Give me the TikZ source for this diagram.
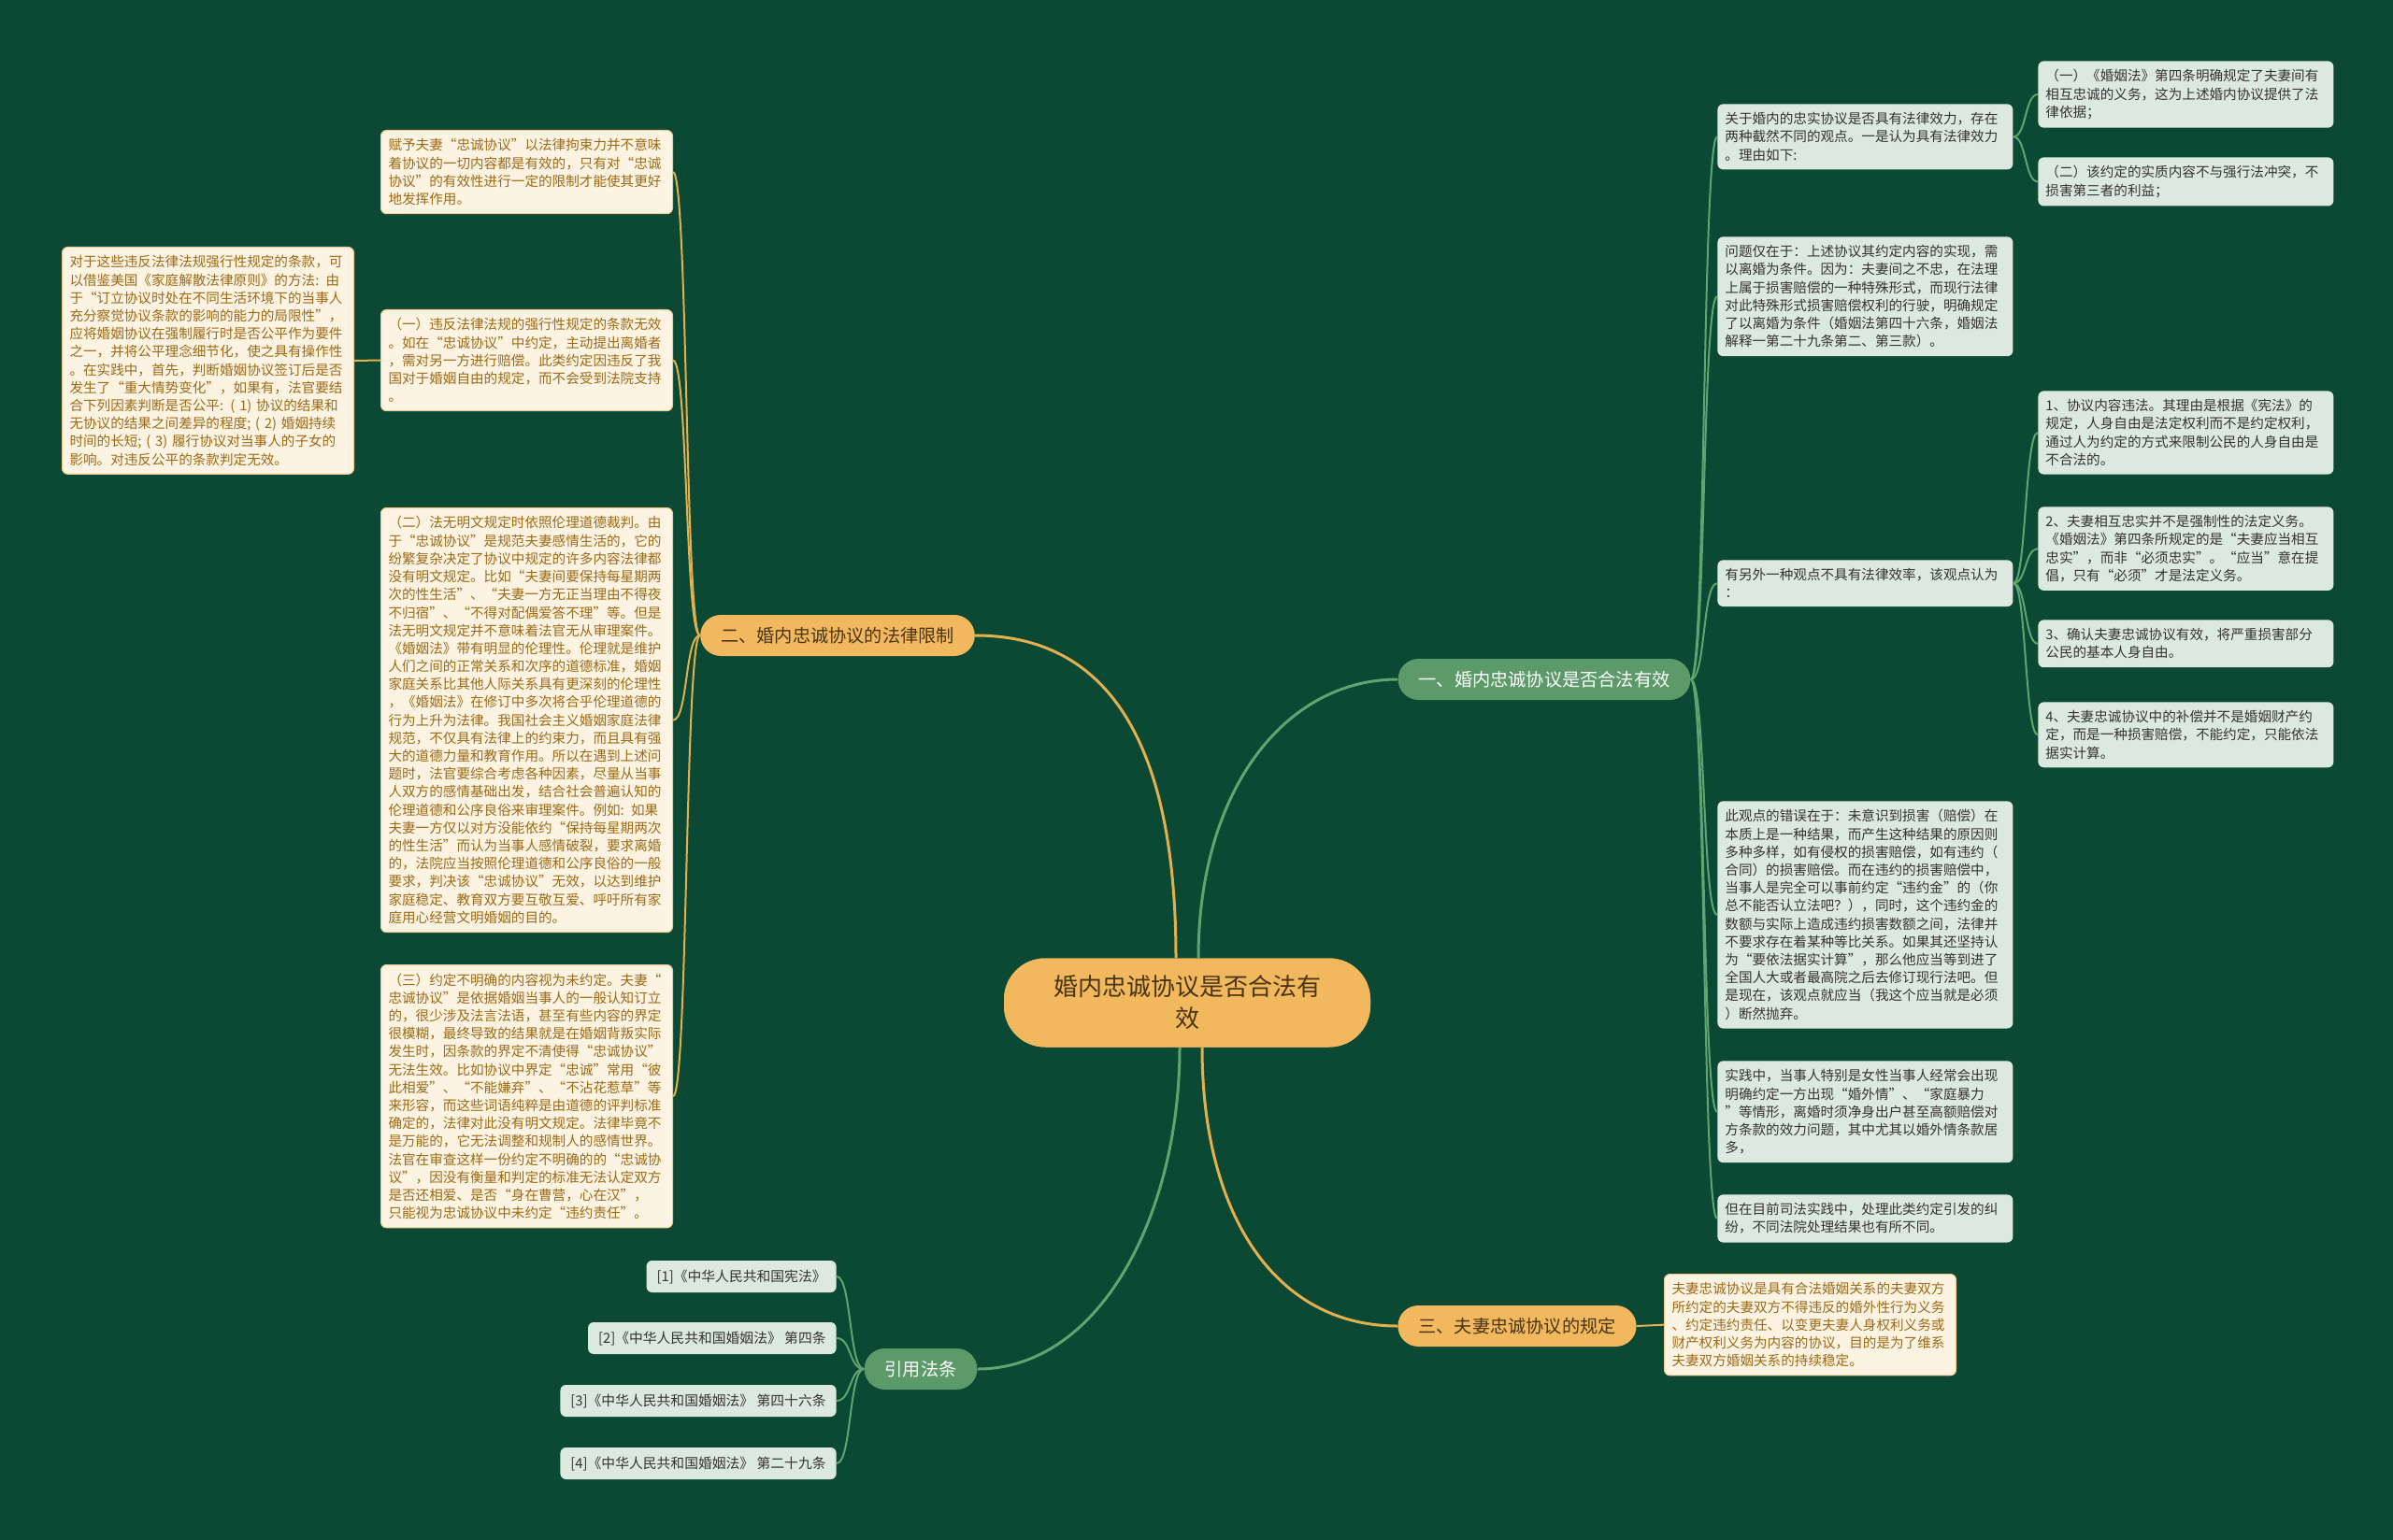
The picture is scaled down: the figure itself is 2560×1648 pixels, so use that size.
\documentclass[tikz,border=0pt]{standalone}
\usepackage{fontspec}
\newfontfamily\cjk{Noto Sans CJK SC}
\definecolor{bgcol}{HTML}{0B4934}
\definecolor{cream}{HTML}{FDF3E3}
\definecolor{creamline}{HTML}{EFCB8E}
\definecolor{creamtext}{HTML}{9C6A14}
\definecolor{greybox}{HTML}{DCE9E0}
\definecolor{greytext}{HTML}{333333}
\definecolor{topicgold}{HTML}{F2B85E}
\definecolor{topictext}{HTML}{4A3513}
\definecolor{topicgreen}{HTML}{5C9B69}
\definecolor{linegold}{HTML}{E3B050}
\definecolor{linegreen}{HTML}{62A470}
\begin{document}
\begin{tikzpicture}[x=0.5pt,y=-0.5pt,
  leafY/.style={draw=creamline,fill=cream,text=creamtext,rounded corners=3pt,line width=0.5pt,
    inner xsep=4pt,inner ysep=4.5pt,text width=148pt,align=left,font=\cjk\fontsize{7.3}{9.6}\selectfont},
  leafG/.style={fill=greybox,text=greytext,rounded corners=3pt,
    inner xsep=4pt,inner ysep=4.5pt,text width=150pt,align=left,font=\cjk\fontsize{7.3}{9.6}\selectfont},
  leafC/.style={fill=greybox,text=greytext,rounded corners=3pt,inner xsep=5.5pt,inner ysep=3pt,
    minimum height=17pt,font=\cjk\fontsize{7.4}{8}\selectfont},
  topicY/.style={fill=topicgold,text=topictext,rounded corners=11pt,minimum height=22pt,
    inner xsep=11pt,font=\cjk\fontsize{9.6}{11}\selectfont},
  topicG/.style={topicY,fill=topicgreen,text=white},
  root/.style={fill=topicgold,text=topictext,rounded corners=22pt,text width=146pt,align=center,
    inner xsep=25pt,minimum height=47.5pt,font=\cjk\fontsize{13}{17}\selectfont},
  lineY/.style={draw=linegold,line width=1pt},
  lineG/.style={draw=linegreen,line width=1pt}]
\fill[bgcol] (0,0) rectangle (2560,1648);
\useasboundingbox (0,0) rectangle (2560,1648);

\node[topicY] (b2) at (896,680) {二、婚内忠诚协议的法律限制};
\node[topicG] (b1) at (1652,727) {一、婚内忠诚协议是否合法有效};
\node[topicY] (b3) at (1623,1419) {三、夫妻忠诚协议的规定};
\node[topicG] (bref) at (985,1465) {引用法条};

\node[root] (root) at (1270,1073) {};
\draw[lineY,line width=1.5pt] ([xshift=-6pt]root.north) .. controls +(0,-200) and +(160,0) .. (b2.east);
\draw[lineG,line width=1.5pt] ([xshift=6pt]root.north) .. controls +(0,-180) and +(-120,0) .. (b1.west);
\draw[lineY,line width=1.5pt] ([xshift=8pt]root.south) .. controls +(0,180) and +(-130,0) .. (b3.west);
\draw[lineG,line width=1.5pt] ([xshift=-4pt]root.south) .. controls +(0,180) and +(130,0) .. (bref.east);
\node[root] at (root) {婚内忠诚协议是否合法有\\效};

\node[leafY,anchor=north east] (l1) at (720,139) {赋予夫妻“忠诚协议”以法律拘束力并不意味\\
着协议的一切内容都是有效的，只有对“忠诚\\
协议”的有效性进行一定的限制才能使其更好\\
地发挥作用。};
\node[leafY,anchor=north east] (l2) at (720,331) {（一）违反法律法规的强行性规定的条款无效\\
。如在“忠诚协议”中约定，主动提出离婚者\\
，需对另一方进行赔偿。此类约定因违反了我\\
国对于婚姻自由的规定，而不会受到法院支持\\
。};
\node[leafY,anchor=north east] (l2a) at (379,264) {对于这些违反法律法规强行性规定的条款，可\\
以借鉴美国《家庭解散法律原则》的方法: 由\\
于“订立协议时处在不同生活环境下的当事人\\
充分察觉协议条款的影响的能力的局限性”，\\
应将婚姻协议在强制履行时是否公平作为要件\\
之一，并将公平理念细节化，使之具有操作性\\
。在实践中，首先，判断婚姻协议签订后是否\\
发生了“重大情势变化”，如果有，法官要结\\
合下列因素判断是否公平: ( 1) 协议的结果和\\
无协议的结果之间差异的程度; ( 2) 婚姻持续\\
时间的长短; ( 3) 履行协议对当事人的子女的\\
影响。对违反公平的条款判定无效。};
\node[leafY,anchor=north east] (l3) at (720,543) {（二）法无明文规定时依照伦理道德裁判。由\\
于“忠诚协议”是规范夫妻感情生活的，它的\\
纷繁复杂决定了协议中规定的许多内容法律都\\
没有明文规定。比如“夫妻间要保持每星期两\\
次的性生活”、“夫妻一方无正当理由不得夜\\
不归宿”、“不得对配偶爱答不理”等。但是\\
法无明文规定并不意味着法官无从审理案件。\\
《婚姻法》带有明显的伦理性。伦理就是维护\\
人们之间的正常关系和次序的道德标准，婚姻\\
家庭关系比其他人际关系具有更深刻的伦理性\\
，《婚姻法》在修订中多次将合乎伦理道德的\\
行为上升为法律。我国社会主义婚姻家庭法律\\
规范，不仅具有法律上的约束力，而且具有强\\
大的道德力量和教育作用。所以在遇到上述问\\
题时，法官要综合考虑各种因素，尽量从当事\\
人双方的感情基础出发，结合社会普遍认知的\\
伦理道德和公序良俗来审理案件。例如: 如果\\
夫妻一方仅以对方没能依约“保持每星期两次\\
的性生活”而认为当事人感情破裂，要求离婚\\
的，法院应当按照伦理道德和公序良俗的一般\\
要求，判决该“忠诚协议”无效，以达到维护\\
家庭稳定、教育双方要互敬互爱、呼吁所有家\\
庭用心经营文明婚姻的目的。};
\node[leafY,anchor=north east] (l4) at (720,1032) {（三）约定不明确的内容视为未约定。夫妻“\\
忠诚协议”是依据婚姻当事人的一般认知订立\\
的，很少涉及法言法语，甚至有些内容的界定\\
很模糊，最终导致的结果就是在婚姻背叛实际\\
发生时，因条款的界定不清使得“忠诚协议”\\
无法生效。比如协议中界定“忠诚”常用“彼\\
此相爱”、“不能嫌弃”、“不沾花惹草”等\\
来形容，而这些词语纯粹是由道德的评判标准\\
确定的，法律对此没有明文规定。法律毕竟不\\
是万能的，它无法调整和规制人的感情世界。\\
法官在审查这样一份约定不明确的的“忠诚协\\
议”，因没有衡量和判定的标准无法认定双方\\
是否还相爱、是否“身在曹营，心在汉”，\\
只能视为忠诚协议中未约定“违约责任”。};

\node[leafG,anchor=north west] (r1) at (1837,111) {关于婚内的忠实协议是否具有法律效力，存在\\
两种截然不同的观点。一是认为具有法律效力\\
。理由如下:};
\node[leafG,anchor=north west] (r1a) at (2180,65) {（一）《婚姻法》第四条明确规定了夫妻间有\\
相互忠诚的义务，这为上述婚内协议提供了法\\
律依据；};
\node[leafG,anchor=north west] (r1b) at (2180,168) {（二）该约定的实质内容不与强行法冲突，不\\
损害第三者的利益；};
\node[leafG,anchor=north west] (r2) at (1837,253) {问题仅在于：上述协议其约定内容的实现，需\\
以离婚为条件。因为：夫妻间之不忠，在法理\\
上属于损害赔偿的一种特殊形式，而现行法律\\
对此特殊形式损害赔偿权利的行驶，明确规定\\
了以离婚为条件（婚姻法第四十六条，婚姻法\\
解释一第二十九条第二、第三款）。};
\node[leafG,anchor=north west] (r3) at (1837,599) {有另外一种观点不具有法律效率，该观点认为\\
：};
\node[leafG,anchor=north west] (r3a) at (2180,418) {1、协议内容违法。其理由是根据《宪法》的\\
规定，人身自由是法定权利而不是约定权利，\\
通过人为约定的方式来限制公民的人身自由是\\
不合法的。};
\node[leafG,anchor=north west] (r3b) at (2180,542) {2、夫妻相互忠实并不是强制性的法定义务。\\
《婚姻法》第四条所规定的是“夫妻应当相互\\
忠实”，而非“必须忠实”。“应当”意在提\\
倡，只有“必须”才是法定义务。};
\node[leafG,anchor=north west] (r3c) at (2180,663) {3、确认夫妻忠诚协议有效，将严重损害部分\\
公民的基本人身自由。};
\node[leafG,anchor=north west] (r3d) at (2180,751) {4、夫妻忠诚协议中的补偿并不是婚姻财产约\\
定，而是一种损害赔偿，不能约定，只能依法\\
据实计算。};
\node[leafG,anchor=north west] (r4) at (1837,857) {此观点的错误在于：未意识到损害（赔偿）在\\
本质上是一种结果，而产生这种结果的原因则\\
多种多样，如有侵权的损害赔偿，如有违约（\\
合同）的损害赔偿。而在违约的损害赔偿中，\\
当事人是完全可以事前约定“违约金”的（你\\
总不能否认立法吧？），同时，这个违约金的\\
数额与实际上造成违约损害数额之间，法律并\\
不要求存在着某种等比关系。如果其还坚持认\\
为“要依法据实计算”，那么他应当等到进了\\
全国人大或者最高院之后去修订现行法吧。但\\
是现在，该观点就应当（我这个应当就是必须\\
）断然抛弃。};
\node[leafG,anchor=north west] (r5) at (1837,1135) {实践中，当事人特别是女性当事人经常会出现\\
明确约定一方出现“婚外情”、“家庭暴力\\
”等情形，离婚时须净身出户甚至高额赔偿对\\
方条款的效力问题，其中尤其以婚外情条款居\\
多，};
\node[leafG,anchor=north west] (r6) at (1837,1278) {但在目前司法实践中，处理此类约定引发的纠\\
纷，不同法院处理结果也有所不同。};

\node[leafY,anchor=north west] (t1) at (1780,1363) {夫妻忠诚协议是具有合法婚姻关系的夫妻双方\\
所约定的夫妻双方不得违反的婚外性行为义务\\
、约定违约责任、以变更夫妻人身权利义务或\\
财产权利义务为内容的协议，目的是为了维系\\
夫妻双方婚姻关系的持续稳定。};

\node[leafC,anchor=east] (c1) at (895,1366) {[1]《中华人民共和国宪法》};
\node[leafC,anchor=east] (c2) at (895,1432) {[2]《中华人民共和国婚姻法》 第四条};
\node[leafC,anchor=east] (c3) at (895,1499) {[3]《中华人民共和国婚姻法》 第四十六条};
\node[leafC,anchor=east] (c4) at (895,1566) {[4]《中华人民共和国婚姻法》 第二十九条};

\foreach \n in {l1,l2,l3,l4}
  \draw[lineY] (b2.west) .. controls +(-16,0) and +(16,0) .. (\n.east);
\draw[lineY] (l2.west) -- (l2a.east);
\draw[lineY] (b3.east) .. controls +(14,0) and +(-14,0) .. (t1.west);
\foreach \n in {r1,r2,r3,r4,r5,r6}
  \draw[lineG] (b1.east) .. controls +(16,0) and +(-16,0) .. (\n.west);
\foreach \n in {r1a,r1b}
  \draw[lineG] (r1.east) .. controls +(14,0) and +(-14,0) .. (\n.west);
\foreach \n in {r3a,r3b,r3c,r3d}
  \draw[lineG] (r3.east) .. controls +(14,0) and +(-14,0) .. (\n.west);
\foreach \n in {c1,c2,c3,c4}
  \draw[lineG] (bref.west) .. controls +(-16,0) and +(16,0) .. (\n.east);
\end{tikzpicture}
\end{document}
